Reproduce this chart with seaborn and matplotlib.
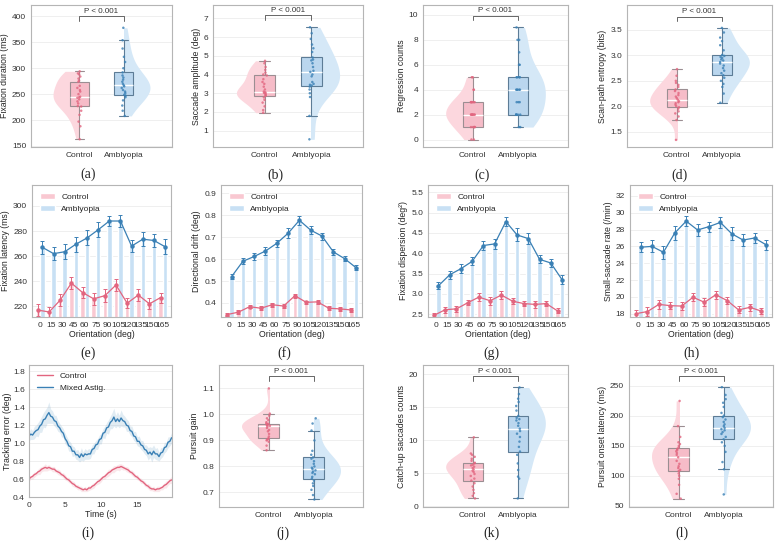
import numpy as np
import pandas as pd
import matplotlib
matplotlib.use("Agg")
import matplotlib.pyplot as plt
from matplotlib.patches import Rectangle
import seaborn as sns

groups = ["Control", "Amblyopia"]

# raincloud panels, per-subject values
fix_dur_ctrl = [163, 188, 197, 210, 218, 226, 227, 232, 236, 240, 243, 244, 245, 250, 255, 258, 262, 266, 274, 276, 280, 284, 288, 290, 294]
fix_dur_ambl = [208, 218, 228, 238, 244, 247, 249, 252, 255, 258, 262, 265, 267, 270, 274, 278, 282, 286, 292, 300, 312, 322, 338, 354, 378]
sacc_amp_ctrl = [1.96, 2.10, 2.30, 2.50, 2.65, 2.78, 2.86, 2.90, 2.95, 3.00, 3.02, 3.05, 3.09, 3.20, 3.35, 3.50, 3.60, 3.75, 3.95, 4.00, 4.10, 4.25, 4.40, 4.60, 4.73]
sacc_amp_ambl = [0.54, 1.79, 2.80, 3.00, 3.20, 3.35, 3.41, 3.45, 3.50, 3.60, 3.90, 4.00, 4.14, 4.20, 4.40, 4.60, 4.75, 4.80, 4.91, 5.20, 5.40, 5.60, 5.90, 6.20, 6.52]
regr_ctrl = [0, 0, 1, 1, 1, 1, 1, 2, 2, 2, 2, 2, 2, 2, 2, 3, 3, 3, 3, 3, 3, 4, 4, 5, 5]
regr_ambl = [1, 1, 2, 2, 2, 2, 2, 3, 3, 3, 4, 4, 4, 4, 4, 5, 5, 5, 5, 6, 6, 7, 8, 8, 9]
entropy_ctrl = [1.34, 1.73, 1.80, 1.86, 1.90, 1.95, 1.98, 2.00, 2.03, 2.06, 2.08, 2.10, 2.13, 2.16, 2.19, 2.22, 2.26, 2.30, 2.33, 2.38, 2.42, 2.46, 2.50, 2.60, 2.73]
entropy_ambl = [2.07, 2.25, 2.38, 2.44, 2.50, 2.56, 2.61, 2.65, 2.70, 2.75, 2.80, 2.84, 2.87, 2.90, 2.92, 2.95, 2.97, 2.99, 3.01, 3.10, 3.20, 3.28, 3.35, 3.45, 3.54]
gain_ctrl = [0.862, 0.880, 0.895, 0.900, 0.903, 0.906, 0.908, 0.915, 0.925, 0.935, 0.940, 0.948, 0.954, 0.956, 0.958, 0.960, 0.962, 0.964, 0.965, 0.970, 0.978, 0.985, 0.995, 1.003, 1.100]
gain_ambl = [0.673, 0.690, 0.710, 0.725, 0.735, 0.745, 0.753, 0.760, 0.770, 0.775, 0.780, 0.785, 0.790, 0.795, 0.800, 0.810, 0.820, 0.830, 0.835, 0.845, 0.860, 0.900, 0.938, 0.965, 0.985]
catchup_ctrl = [1.2, 1.6, 2.0, 2.5, 3.0, 3.5, 3.9, 4.2, 4.6, 4.9, 5.2, 5.4, 5.6, 5.8, 6.0, 6.2, 6.3, 6.5, 6.6, 6.9, 7.2, 7.5, 7.8, 8.0, 10.45]
catchup_ambl = [1.2, 4.2, 4.5, 5.5, 6.5, 7.8, 8.3, 9.0, 9.8, 10.5, 11.0, 11.4, 11.75, 12.2, 12.6, 13.0, 13.2, 13.4, 13.7, 14.5, 15.2, 15.8, 16.3, 17.0, 18.0]
onset_ctrl = [62, 70, 85, 95, 100, 104, 108, 110, 113, 116, 120, 125, 131, 135, 138, 141, 143, 145, 147, 150, 153, 156, 165, 183, 225]
onset_ambl = [69, 111, 123, 140, 150, 156, 161, 165, 170, 173, 176, 178, 180, 183, 186, 190, 194, 198, 200.5, 205, 215, 222, 228, 235, 248]

# orientation panels, mean and error per orientation
orientation = [0, 15, 30, 45, 60, 75, 90, 105, 120, 135, 150, 165]
lat_ctrl = [217, 215.5, 225, 238.5, 231, 226, 228.5, 237, 222.5, 229, 222, 227]
lat_ctrl_err = [4.5, 4, 5, 4.5, 4.5, 5, 5, 4.5, 4, 4.5, 4.5, 4]
lat_ambl = [267, 262, 263.5, 269.5, 274.5, 281, 288, 288, 268, 273.5, 272.5, 267.5]
lat_ambl_err = [5, 5, 6, 6, 6, 6, 4, 5, 5, 5.5, 5.5, 6]
drift_ctrl = [0.347, 0.358, 0.383, 0.376, 0.392, 0.386, 0.433, 0.403, 0.405, 0.376, 0.373, 0.368]
drift_ctrl_err = [0.008, 0.008, 0.008, 0.008, 0.009, 0.008, 0.010, 0.008, 0.010, 0.008, 0.008, 0.008]
drift_ambl = [0.520, 0.590, 0.612, 0.637, 0.672, 0.718, 0.777, 0.732, 0.705, 0.633, 0.602, 0.561]
drift_ambl_err = [0.010, 0.013, 0.016, 0.018, 0.017, 0.022, 0.020, 0.018, 0.016, 0.015, 0.010, 0.012]
disp_ctrl = [2.47, 2.61, 2.63, 2.78, 2.92, 2.83, 2.97, 2.82, 2.76, 2.74, 2.76, 2.58]
disp_ctrl_err = [0.07, 0.07, 0.08, 0.06, 0.10, 0.10, 0.09, 0.08, 0.07, 0.08, 0.07, 0.06]
disp_ambl = [3.20, 3.47, 3.62, 3.80, 4.19, 4.23, 4.78, 4.45, 4.36, 3.85, 3.76, 3.35]
disp_ambl_err = [0.09, 0.10, 0.11, 0.10, 0.10, 0.12, 0.12, 0.16, 0.13, 0.10, 0.10, 0.11]
rate_ctrl = [18.0, 18.25, 19.1, 18.95, 18.9, 19.95, 19.35, 20.25, 19.55, 18.45, 18.75, 18.3]
rate_ctrl_err = [0.4, 0.5, 0.5, 0.4, 0.5, 0.5, 0.5, 0.5, 0.4, 0.4, 0.4, 0.4]
rate_ambl = [25.9, 26.0, 25.3, 27.6, 29.0, 27.95, 28.35, 28.85, 27.5, 26.75, 27.0, 26.2]
rate_ambl_err = [0.6, 0.7, 0.8, 0.8, 0.6, 0.7, 0.6, 0.7, 0.8, 0.7, 0.6, 0.6]

# tracking error, sampled every 0.25 s
track_dt = 0.25
track_ctrl = [0.60, 0.62, 0.63, 0.65, 0.66, 0.68, 0.69, 0.71, 0.72, 0.73,
              0.72, 0.73, 0.72, 0.71, 0.71, 0.69, 0.68, 0.67, 0.65, 0.64,
              0.62, 0.60, 0.59, 0.57, 0.55, 0.54, 0.52, 0.51, 0.50, 0.49,
              0.48, 0.49, 0.48, 0.50, 0.50, 0.52, 0.53, 0.55, 0.57, 0.58,
              0.60, 0.62, 0.63, 0.65, 0.67, 0.68, 0.70, 0.71, 0.72, 0.73,
              0.73, 0.74, 0.73, 0.72, 0.71, 0.70, 0.68, 0.67, 0.65, 0.63,
              0.62, 0.60, 0.58, 0.57, 0.55, 0.53, 0.52, 0.50, 0.49, 0.49,
              0.48, 0.49, 0.49, 0.50, 0.51, 0.53, 0.54, 0.56, 0.58, 0.59]
track_ctrl_sd = [0.03, 0.02, 0.03, 0.03, 0.02, 0.03, 0.04, 0.03, 0.03, 0.04,
                 0.03, 0.03, 0.02, 0.03, 0.03, 0.02, 0.03, 0.03, 0.02, 0.03,
                 0.03, 0.02, 0.03, 0.02, 0.03, 0.03, 0.02, 0.03, 0.02, 0.03,
                 0.02, 0.03, 0.02, 0.03, 0.02, 0.03, 0.03, 0.02, 0.03, 0.03,
                 0.03, 0.02, 0.03, 0.03, 0.04, 0.03, 0.03, 0.04, 0.03, 0.03,
                 0.04, 0.03, 0.03, 0.02, 0.03, 0.03, 0.02, 0.03, 0.03, 0.02,
                 0.03, 0.02, 0.03, 0.02, 0.03, 0.02, 0.03, 0.03, 0.02, 0.03,
                 0.02, 0.03, 0.03, 0.02, 0.03, 0.03, 0.04, 0.03, 0.03, 0.04]
track_mixed = [1.08, 1.10, 1.09, 1.12, 1.14, 1.15, 1.19, 1.21, 1.26, 1.27,
               1.31, 1.34, 1.30, 1.29, 1.25, 1.24, 1.19, 1.17, 1.13, 1.11,
               1.05, 1.02, 0.97, 0.96, 0.91, 0.91, 0.87, 0.87, 0.84, 0.88,
               0.85, 0.88, 0.87, 0.88, 0.88, 0.93, 0.94, 0.98, 0.99, 1.04,
               1.05, 1.11, 1.12, 1.17, 1.18, 1.23, 1.25, 1.29, 1.24, 1.27,
               1.24, 1.28, 1.25, 1.24, 1.20, 1.19, 1.14, 1.13, 1.08, 1.07,
               1.02, 1.02, 0.98, 0.97, 0.93, 0.92, 0.88, 0.90, 0.87, 0.91,
               0.88, 0.88, 0.85, 0.89, 0.90, 0.95, 0.96, 1.01, 1.02, 1.06]
track_mixed_sd = [0.05, 0.06, 0.05, 0.07, 0.06, 0.08, 0.07, 0.09, 0.08, 0.10,
                  0.09, 0.12, 0.08, 0.07, 0.06, 0.07, 0.06, 0.05, 0.06, 0.05,
                  0.06, 0.05, 0.06, 0.05, 0.06, 0.05, 0.05, 0.06, 0.05, 0.07,
                  0.05, 0.06, 0.05, 0.06, 0.05, 0.05, 0.06, 0.05, 0.06, 0.05,
                  0.06, 0.05, 0.07, 0.06, 0.08, 0.07, 0.09, 0.10, 0.07, 0.08,
                  0.07, 0.09, 0.07, 0.06, 0.07, 0.06, 0.05, 0.06, 0.05, 0.06,
                  0.05, 0.06, 0.05, 0.06, 0.05, 0.06, 0.07, 0.06, 0.08, 0.07,
                  0.06, 0.07, 0.05, 0.06, 0.05, 0.06, 0.05, 0.06, 0.05, 0.06]

pink_line, blue_line = "#e2657f", "#3a80b5"
pink_violin, blue_violin = "#fcd7de", "#d5e8f7"
pink_box, blue_box = "#f6bcc8", "#bad6ee"
pink_edge, blue_edge = "#9b8e92", "#5d7c96"
pink_bar, blue_bar = "#f9c8d1", "#c8e0f4"

sns.set_theme(style="whitegrid")
plt.rcParams["font.family"] = ["Liberation Sans", "DejaVu Sans"]
plt.rcParams["font.size"] = 6
np.random.seed(3)

W, H = 776, 545
fig = plt.figure(figsize=(W / 100, H / 100), dpi=100)


def add_ax(l, t, r, b):
    return fig.add_axes([l / W, 1 - b / H, (r - l) / W, (b - t) / H])


def style(ax, ylim, yticks):
    ax.set_ylim(*ylim)
    ax.set_yticks(yticks)
    ax.grid(axis="y", color="#ececec", lw=0.6)
    ax.grid(axis="x", visible=False)
    for s in ax.spines.values():
        s.set_visible(True)
        s.set_color("#b5b5b5")
        s.set_linewidth(0.8)
    ax.tick_params(length=2, width=0.5, color="#999999", labelsize=6, pad=1.5, labelcolor="#333333")


def raincloud(ax, ctrl, ambl, ylabel, ylim, yticks, br_y, br_drop):
    df = pd.DataFrame({"group": ["Control"] * len(ctrl) + ["Amblyopia"] * len(ambl),
                       "value": ctrl + ambl})
    n0 = len(ax.collections)
    sns.violinplot(data=df, x="group", y="value", hue="group", order=groups, hue_order=groups,
                   palette=[pink_violin, blue_violin], dodge=False, inner=None, cut=0,
                   density_norm="width", width=1.2, linewidth=0, saturation=1, legend=False, ax=ax)
    # keep only the outer half of each violin
    for coll, (x0, x1) in zip(ax.collections[n0:], [(-5, 0), (1, 6)]):
        coll.set_clip_path(Rectangle((x0, -1e5), x1 - x0, 2e5, transform=ax.transData))
    for g, fc, ec in zip(groups, [pink_box, blue_box], [pink_edge, blue_edge]):
        sns.boxplot(data=df[df["group"] == g], x="group", y="value", order=groups, width=0.45,
                    color=fc, saturation=1, linecolor=ec, linewidth=0.8, showfliers=False,
                    medianprops={"color": "white", "linewidth": 1.0}, ax=ax)
    sns.stripplot(data=df, x="group", y="value", hue="group", order=groups, hue_order=groups,
                  palette=[pink_line, blue_line], size=1.8, jitter=0.05, alpha=0.8, linewidth=0,
                  legend=False, ax=ax)
    ax.plot([0, 0, 1, 1], [br_y - br_drop, br_y, br_y, br_y - br_drop], color="#666666", lw=0.7)
    ax.annotate("P < 0.001", (0.5, br_y), xytext=(0, 1), textcoords="offset points",
                ha="center", va="bottom", fontsize=5.8, color="#333333")
    ax.set_xlim(-1.1, 2.1)
    ax.set_xlabel("")
    ax.set_ylabel(ylabel, fontsize=6.3, labelpad=2)
    style(ax, ylim, yticks)


def bar_line(ax, ctrl, ctrl_err, ambl, ambl_err, ylabel, ylim, yticks):
    df = pd.DataFrame({"orientation": orientation * 2,
                       "group": ["Control"] * len(orientation) + ["Amblyopia"] * len(orientation),
                       "value": ctrl + ambl})
    sns.barplot(data=df, x="orientation", y="value", hue="group", hue_order=groups,
                palette=[pink_bar, blue_bar], native_scale=True, width=0.8, errorbar=None,
                saturation=1, ax=ax)
    for vals, errs, col, off in [(ctrl, ctrl_err, pink_line, -3), (ambl, ambl_err, blue_line, 3)]:
        ax.errorbar(np.array(orientation) + off, vals, yerr=errs, color=col, marker="o", ms=2.2,
                    lw=0.9, elinewidth=0.7, capsize=1.5, capthick=0.7)
    ax.legend(loc="upper left", frameon=False, fontsize=6, handlelength=1.8, handleheight=0.8,
              borderaxespad=0.5, labelspacing=0.5)
    ax.set_xticks(orientation)
    ax.set_xlim(-11, 176)
    ax.set_xlabel("Orientation (deg)", fontsize=6.3, labelpad=1)
    ax.set_ylabel(ylabel, fontsize=6.3, labelpad=2)
    style(ax, ylim, yticks)


# row 1
raincloud(add_ax(31, 5, 172, 147), fix_dur_ctrl, fix_dur_ambl, "Fixation duration (ms)",
          (148, 422), [150, 200, 250, 300, 350, 400], 400, 8)
raincloud(add_ax(213, 5, 363, 147), sacc_amp_ctrl, sacc_amp_ambl, "Saccade amplitude (deg)",
          (0.13, 7.71), [1, 2, 3, 4, 5, 6, 7], 7.18, 0.25)
raincloud(add_ax(423, 5, 568, 147), regr_ctrl, regr_ambl, "Regression counts",
          (-0.6, 10.8), [0, 2, 4, 6, 8, 10], 9.95, 0.35)
raincloud(add_ax(627, 5, 772, 147), entropy_ctrl, entropy_ambl, "Scan-path entropy (bits)",
          (1.2, 3.99), [1.5, 2.0, 2.5, 3.0, 3.5], 3.76, 0.08)

# row 2
bar_line(add_ax(32, 185, 171, 317), lat_ctrl, lat_ctrl_err, lat_ambl, lat_ambl_err,
         "Fixation latency (ms)", (211.5, 316.7), [220, 240, 260, 280, 300])
bar_line(add_ax(221, 185, 362, 317), drift_ctrl, drift_ctrl_err, drift_ambl, drift_ambl_err,
         "Directional drift (deg)", (0.336, 0.938), [0.4, 0.5, 0.6, 0.7, 0.8, 0.9])
bar_line(add_ax(428, 185, 568, 317), disp_ctrl, disp_ctrl_err, disp_ambl, disp_ambl_err,
         "Fixation dispersion (deg²)", (2.43, 5.68), [2.5, 3.0, 3.5, 4.0, 4.5, 5.0, 5.5])
bar_line(add_ax(630, 185, 772, 317), rate_ctrl, rate_ctrl_err, rate_ambl, rate_ambl_err,
         "Small-saccade rate (/min)", (17.6, 33.3), [18, 20, 22, 24, 26, 28, 30, 32])

# row 3: tracking error time course
ax = add_ax(29, 365, 172, 497)
t = np.arange(len(track_ctrl)) * track_dt
for mean, sd, col, lab in [(track_ctrl, track_ctrl_sd, pink_line, "Control"),
                           (track_mixed, track_mixed_sd, blue_line, "Mixed Astig.")]:
    m, s = np.array(mean), np.array(sd)
    ax.fill_between(t, m - s, m + s, color=col, alpha=0.15, lw=0)
    sns.lineplot(x=t, y=m, color=col, lw=1.0, label=lab, ax=ax)
ax.legend(loc="upper left", frameon=False, fontsize=6, handlelength=2.0, borderaxespad=0.5,
          labelspacing=0.5)
ax.set_xlim(0, 19.8)
ax.set_xticks([0, 5, 10, 15])
ax.set_xlabel("Time (s)", fontsize=6.3, labelpad=1)
ax.set_ylabel("Tracking error (deg)", fontsize=6.3, labelpad=1)
style(ax, (0.4, 1.87), [0.4, 0.6, 0.8, 1.0, 1.2, 1.4, 1.6, 1.8])
ax.tick_params(axis="y", pad=1)

raincloud(add_ax(219, 365, 363, 507), gain_ctrl, gain_ambl, "Pursuit gain",
          (0.644, 1.19), [0.7, 0.8, 0.9, 1.0, 1.1], 1.146, 0.018)
raincloud(add_ax(423, 365, 568, 507), catchup_ctrl, catchup_ambl, "Catch-up saccades counts",
          (-0.1, 21.4), [0, 5, 10, 15, 20], 19.75, 0.7)
raincloud(add_ax(629, 365, 773, 507), onset_ctrl, onset_ambl, "Pursuit onset latency (ms)",
          (48, 285), [50, 100, 150, 200, 250], 266, 8)

panel_labels = [("(a)", 88, 174), ("(b)", 275, 175), ("(c)", 482, 175), ("(d)", 679, 175),
                ("(e)", 88, 353), ("(f)", 284, 353), ("(g)", 491, 353), ("(h)", 692, 353),
                ("(i)", 88, 533), ("(j)", 283, 533), ("(k)", 491, 533), ("(l)", 682, 533)]
for txt, x, y in panel_labels:
    fig.text(x / W, 1 - y / H, txt, ha="center", va="center", fontsize=10,
             family=["Liberation Serif", "DejaVu Serif"])

fig.savefig("out.png", dpi=100)
